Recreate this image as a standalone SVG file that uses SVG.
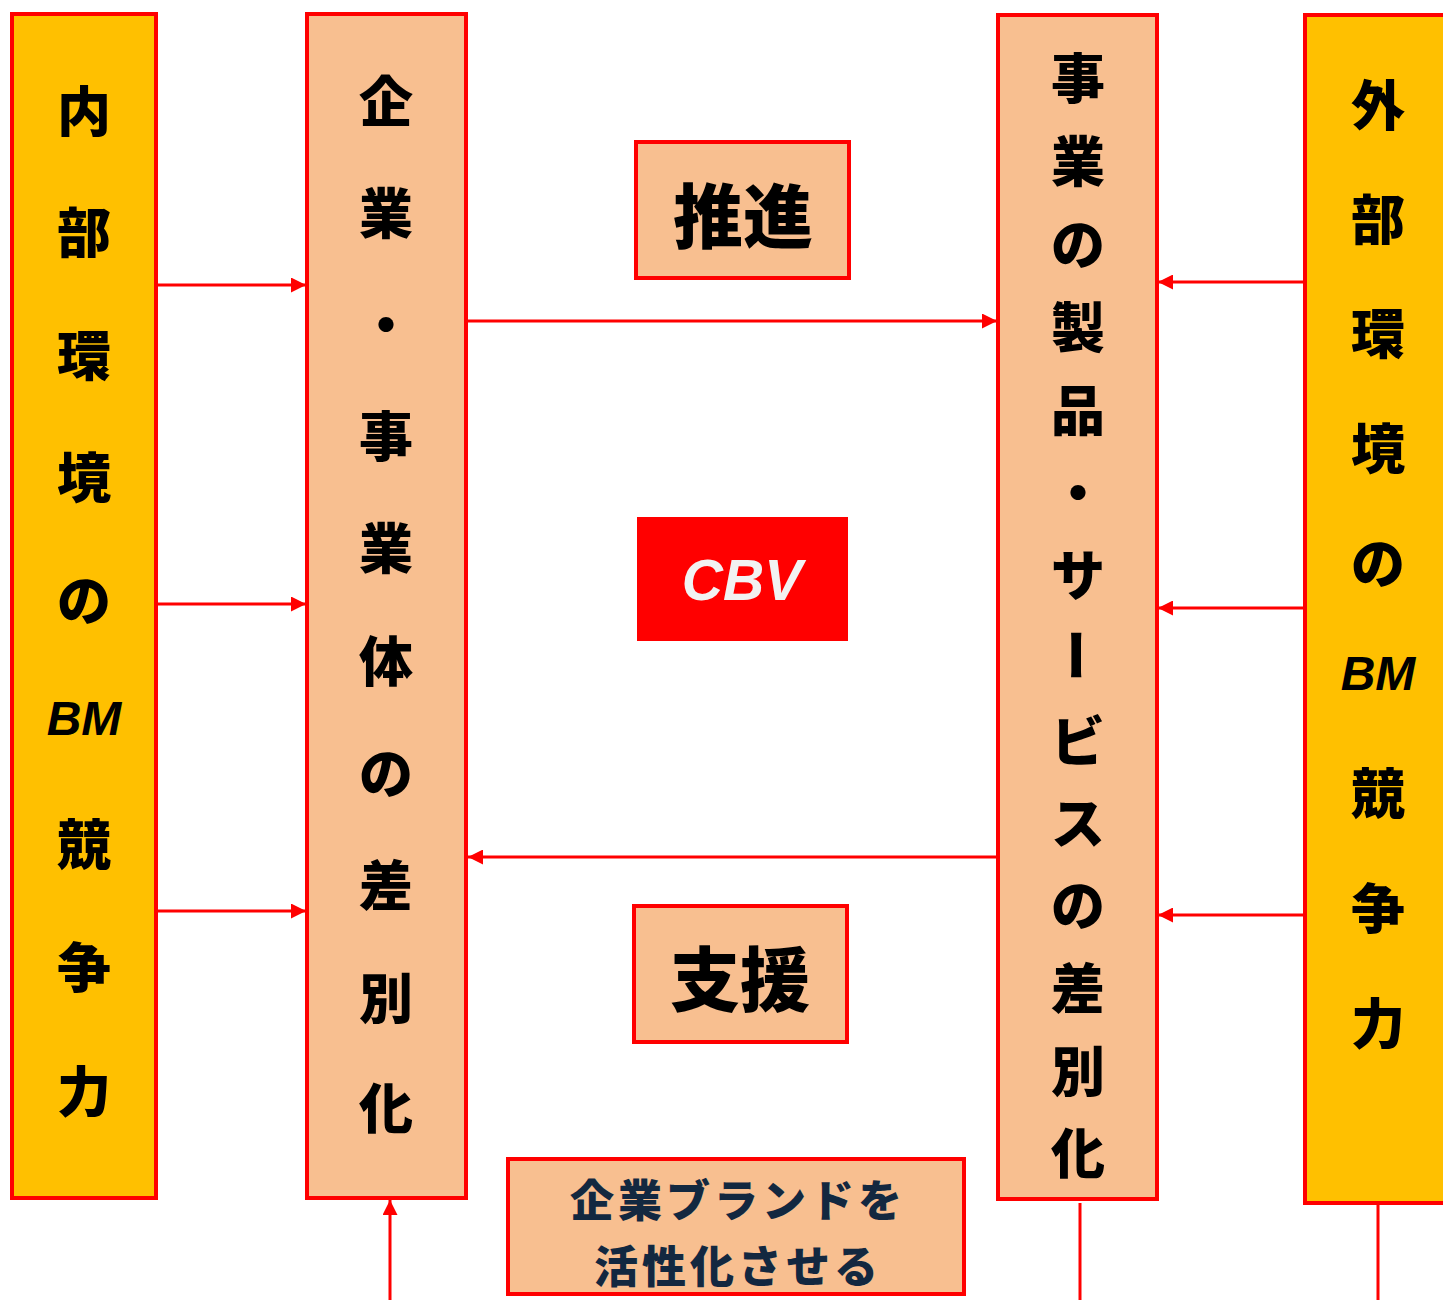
<svg xmlns="http://www.w3.org/2000/svg" width="1443" height="1300" viewBox="0 0 1443 1300">
<style>
.y{fill:#FFC000;stroke:#FF0000;stroke-width:4}
.p{fill:#F8BF90;stroke:#FF0000;stroke-width:4}
.c{font-family:"Noto Sans CJK JP","Noto Sans",sans-serif;font-weight:900;fill:#000;text-anchor:middle;dominant-baseline:central}
.v{font-size:54px}
.lbl{font-size:70px}
.bm{font-family:"Liberation Sans","Noto Sans",sans-serif;font-weight:700;font-style:italic;font-size:48px;fill:#000;text-anchor:middle;dominant-baseline:central}
.cbv{font-family:"Liberation Sans","Noto Sans",sans-serif;font-weight:700;font-style:italic;font-size:57px;fill:#F2F2F2;text-anchor:middle;dominant-baseline:central}
.nb{font-family:"Noto Sans CJK JP","Noto Sans",sans-serif;font-weight:900;font-size:44px;letter-spacing:4px;fill:#132840;text-anchor:middle;dominant-baseline:central}
.ln{stroke:#FF0000;stroke-width:3;fill:none}
</style>
<defs>
<marker id="ah" viewBox="0 0 10 10" refX="10" refY="5" markerWidth="5" markerHeight="5" markerUnits="strokeWidth" orient="auto">
<path d="M0,0 L10,5 L0,10 z" fill="#FF0000"/>
</marker>
</defs>
<rect width="1443" height="1300" fill="#FFFFFF"/>

<g id="connectors">
<line class="ln" x1="157" y1="285" x2="306" y2="285" marker-end="url(#ah)"/>
<line class="ln" x1="157" y1="604" x2="306" y2="604" marker-end="url(#ah)"/>
<line class="ln" x1="157" y1="911" x2="306" y2="911" marker-end="url(#ah)"/>
<line class="ln" x1="468" y1="321" x2="997" y2="321" marker-end="url(#ah)"/>
<line class="ln" x1="997" y1="857" x2="468" y2="857" marker-end="url(#ah)"/>
<line class="ln" x1="1305" y1="282" x2="1158" y2="282" marker-end="url(#ah)"/>
<line class="ln" x1="1305" y1="608" x2="1158" y2="608" marker-end="url(#ah)"/>
<line class="ln" x1="1305" y1="915" x2="1158" y2="915" marker-end="url(#ah)"/>
<path class="ln" d="M1378,1204 L1378,1302 L390,1302 L390,1200" marker-end="url(#ah)"/>
<line class="ln" x1="1080" y1="1203" x2="1080" y2="1302"/>
</g>

<g id="left-internal">
<rect class="y" x="12" y="14" width="144" height="1184"/>
<text class="c v" x="84" y="108">内</text>
<text class="c v" x="84" y="229">部</text>
<text class="c v" x="84" y="352">環</text>
<text class="c v" x="84" y="474">境</text>
<text class="c v" x="84" y="597">の</text>
<text class="bm" x="84" y="718">BM</text>
<text class="c v" x="84" y="841">競</text>
<text class="c v" x="84" y="964">争</text>
<text class="c v" x="84" y="1088">力</text>
</g>

<g id="corporate">
<rect class="p" x="307" y="14" width="159" height="1184"/>
<text class="c v" x="386" y="98">企</text>
<text class="c v" x="386" y="210">業</text>
<text class="c v" x="386" y="321">・</text>
<text class="c v" x="386" y="433">事</text>
<text class="c v" x="386" y="545">業</text>
<text class="c v" x="386" y="658">体</text>
<text class="c v" x="386" y="770">の</text>
<text class="c v" x="386" y="882">差</text>
<text class="c v" x="386" y="995">別</text>
<text class="c v" x="386" y="1105">化</text>
</g>

<g id="business">
<rect class="p" x="998" y="15" width="159" height="1184"/>
<text class="c v" x="1078" y="75">事</text>
<text class="c v" x="1078" y="158">業</text>
<text class="c v" x="1078" y="241">の</text>
<text class="c v" x="1078" y="324">製</text>
<text class="c v" x="1078" y="407">品</text>
<text class="c v" x="1078" y="489">・</text>
<text class="c v" x="1078" y="572">サ</text>
<text class="c v" x="1078" y="655" transform="rotate(90 1078 655)">ー</text>
<text class="c v" x="1078" y="738">ビ</text>
<text class="c v" x="1078" y="820">ス</text>
<text class="c v" x="1078" y="902">の</text>
<text class="c v" x="1078" y="985">差</text>
<text class="c v" x="1078" y="1068">別</text>
<text class="c v" x="1078" y="1150">化</text>
</g>

<g id="right-external">
<rect class="y" x="1305" y="15" width="146" height="1188"/>
<text class="c v" x="1378" y="102">外</text>
<text class="c v" x="1378" y="216">部</text>
<text class="c v" x="1378" y="330">環</text>
<text class="c v" x="1378" y="445">境</text>
<text class="c v" x="1378" y="560">の</text>
<text class="bm" x="1378" y="673">BM</text>
<text class="c v" x="1378" y="790">競</text>
<text class="c v" x="1378" y="905">争</text>
<text class="c v" x="1378" y="1020">力</text>
</g>

<g id="promote">
<rect class="p" x="636" y="142" width="213" height="136"/>
<text class="c lbl" x="743" y="212">推進</text>
</g>

<g id="cbv">
<rect x="637" y="517" width="211" height="124" fill="#FF0000"/>
<text class="cbv" x="742" y="580">CBV</text>
</g>

<g id="support">
<rect class="p" x="634" y="906" width="213" height="136"/>
<text class="c lbl" x="740" y="975">支援</text>
</g>

<g id="brand">
<rect class="p" x="508" y="1159" width="456" height="135"/>
<text class="nb" x="738" y="1198">企業ブランドを</text>
<text class="nb" x="738" y="1264">活性化させる</text>
</g>
</svg>
